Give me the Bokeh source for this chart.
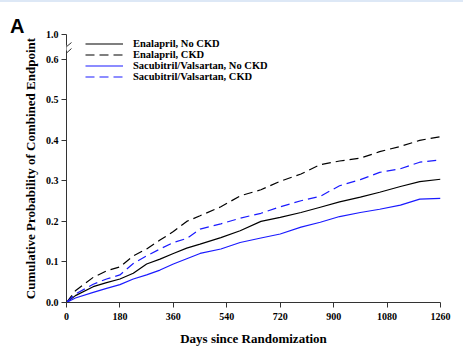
from bokeh.plotting import figure
from bokeh.models import (Range1d, FixedTicker, Legend, LegendItem, Title,
                          BoxAnnotation, Arrow, Div)
from bokeh.layouts import column
from bokeh.embed import file_html
from bokeh.resources import INLINE

# ---------------- data ----------------
days = [0, 30, 90, 135, 180, 225, 270, 315, 360, 405, 450, 520, 585, 655,
        720, 790, 855, 920, 990, 1055, 1125, 1190, 1260]
enal_no_ckd = [0, 0.017, 0.039, 0.049, 0.058, 0.072, 0.095, 0.107, 0.121,
               0.134, 0.144, 0.160, 0.177, 0.200, 0.210, 0.222, 0.235, 0.248,
               0.260, 0.272, 0.286, 0.298, 0.304]
enal_ckd = [0, 0.029, 0.062, 0.078, 0.088, 0.115, 0.132, 0.154, 0.175, 0.200,
            0.214, 0.236, 0.263, 0.278, 0.299, 0.317, 0.340, 0.349, 0.356,
            0.372, 0.385, 0.400, 0.409]
sv_no_ckd = [0, 0.011, 0.025, 0.035, 0.044, 0.058, 0.068, 0.080, 0.095,
             0.108, 0.121, 0.132, 0.148, 0.159, 0.169, 0.186, 0.198, 0.212,
             0.222, 0.230, 0.240, 0.255, 0.257]
sv_ckd = [0, 0.021, 0.045, 0.058, 0.068, 0.096, 0.115, 0.132, 0.148, 0.158,
          0.181, 0.194, 0.208, 0.220, 0.236, 0.251, 0.262, 0.288, 0.303,
          0.321, 0.330, 0.346, 0.352]

series_names = ["Enalapril, No CKD", "Enalapril, CKD",
                "Sacubitril/Valsartan, No CKD", "Sacubitril/Valsartan, CKD"]

x_ticks = [0, 180, 360, 540, 720, 900, 1080, 1260]
y_ticks = [0.0, 0.1, 0.2, 0.3, 0.4, 0.5, 0.6]
y_tick_labels = ["0.0", "0.1", "0.2", "0.3", "0.4", "0.5", "0.6"]
Y_BREAK_TOP = 0.661          # axis position used for the "1.0" tick (broken axis)
top_label = "1.0"
panel_letter = "A"

SERIF = "Liberation Serif"
BLACK = "#000000"
BLUE = "#1a1aff"

HEADER_H = 28
header = Div(
    text=('<div style="position:relative;width:463px;height:%dpx;overflow:visible;">'
          '<div style="position:absolute;left:0;top:0;width:463px;height:2px;'
          'background:#dde8f6;"></div>'
          '<div style="position:absolute;left:10px;top:16px;'
          'font-family:\'Liberation Sans\';font-weight:bold;font-size:20px;'
          'line-height:20px;color:#000;z-index:10;">%s</div></div>') % (HEADER_H, panel_letter),
    width=463, height=HEADER_H, margin=0,
    styles={"overflow": "visible", "z-index": "10", "position": "relative"})

p = figure(width=463, height=356 - HEADER_H, output_backend="svg",
           toolbar_location=None,
           x_range=Range1d(0, 1260), y_range=Range1d(0, Y_BREAK_TOP),
           min_border_left=66, min_border_right=23, min_border_top=34 - HEADER_H,
           min_border_bottom=54, margin=0)
p.outline_line_color = None
p.xgrid.visible = False
p.ygrid.visible = False
p.background_fill_color = "white"
p.border_fill_alpha = 0

r1 = p.line(days, enal_no_ckd, line_color=BLACK, line_width=1.2)
r2 = p.line(days, enal_ckd, line_color=BLACK, line_width=1.2, line_dash="9 5")
r3 = p.line(days, sv_no_ckd, line_color=BLUE, line_width=1.2)
r4 = p.line(days, sv_ckd, line_color=BLUE, line_width=1.2, line_dash="9 5")

legend = Legend(items=[LegendItem(label=n, renderers=[r]) for n, r in
                       zip(series_names, [r1, r2, r3, r4])],
                location=(19, 220), orientation="vertical",
                glyph_width=38, glyph_height=11, label_height=11,
                label_standoff=10, spacing=0, padding=0, margin=0,
                border_line_color=None, background_fill_alpha=0,
                label_text_font=SERIF, label_text_font_style="bold",
                label_text_font_size="10.5px", label_text_color=BLACK)
p.add_layout(legend, "center")

# axes
for ax in (p.xaxis[0], p.yaxis[0]):
    ax.axis_line_color = "#333333"
    ax.axis_line_width = 1
    ax.major_tick_line_color = "#333333"
    ax.major_tick_out = 5
    ax.major_tick_in = 0
    ax.minor_tick_line_color = None
    ax.major_label_text_font = SERIF
    ax.major_label_text_font_style = "bold"
    ax.major_label_text_font_size = "10px"
    ax.major_label_text_color = BLACK

p.xaxis.ticker = FixedTicker(ticks=x_ticks)
p.xaxis.major_label_standoff = 5

p.yaxis.ticker = FixedTicker(ticks=y_ticks + [Y_BREAK_TOP])
overrides = {t: l for t, l in zip(y_ticks, y_tick_labels)}
overrides[Y_BREAK_TOP] = top_label
p.yaxis.major_label_overrides = overrides
p.yaxis.major_label_standoff = 3
p.yaxis.axis_label = "Cumulative Probability of Combined Endpoint"
p.yaxis.axis_label_text_font = SERIF
p.yaxis.axis_label_text_font_style = "bold"
p.yaxis.axis_label_text_font_size = "13px"
p.yaxis.axis_label_text_color = BLACK
p.yaxis.axis_label_standoff = 5

# x axis title (slightly right of centre, as in the reference)
p.add_layout(Title(text="Days since Randomization", align="center",
                   offset=13, text_font=SERIF, text_font_style="bold",
                   text_font_size="13px", text_color=BLACK,
                   standoff=13), "below")

# axis break: gap in the axis line and two slashes
p.add_layout(BoxAnnotation(left=-12, right=12, bottom=0.6215, top=0.6338,
                           fill_color="white", fill_alpha=1, line_color=None))
p.add_layout(Arrow(end=None, x_start=-23.6, y_start=0.6166, x_end=16.8,
                   y_end=0.6412, line_color="#333333", line_width=1))
p.add_layout(Arrow(end=None, x_start=-20.2, y_start=0.6017, x_end=16.8,
                   y_end=0.6264, line_color="#333333", line_width=1))

layout = column(header, p, spacing=0, margin=0)
open("out.html", "w").write(file_html(layout, INLINE))
